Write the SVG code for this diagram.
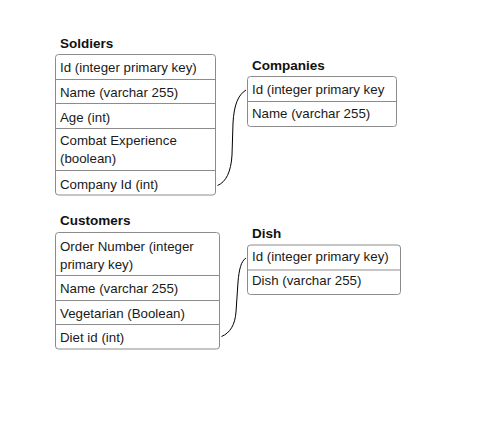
<svg xmlns="http://www.w3.org/2000/svg" width="491" height="434" viewBox="0 0 491 434">
<style>
.bg{fill:#ffffff}
.box{fill:#ffffff;stroke:#8c8c8c;stroke-width:1}
.sep{stroke:#8c8c8c;stroke-width:1}
.t{font-family:"Liberation Sans",Arial,sans-serif;font-size:13.3px;fill:#1a1a1a}
.h{font-family:"Liberation Sans",Arial,sans-serif;font-size:13.5px;font-weight:bold;fill:#111111}
.link{fill:none;stroke:#000000;stroke-width:1}
</style>
<rect class="bg" x="0" y="0" width="491" height="434"/>
<g id="soldiers">
<text class="h" x="60" y="47.5">Soldiers</text>
<rect class="box" x="55.5" y="54.5" width="160" height="140.5" rx="3"/>
<line class="sep" x1="55.5" y1="79.5" x2="215.5" y2="79.5"/>
<line class="sep" x1="55.5" y1="103.5" x2="215.5" y2="103.5"/>
<line class="sep" x1="55.5" y1="128.5" x2="215.5" y2="128.5"/>
<line class="sep" x1="55.5" y1="170.5" x2="215.5" y2="170.5"/>
<text class="t" x="60" y="72">Id (integer primary key)</text>
<text class="t" x="60" y="97">Name (varchar 255)</text>
<text class="t" x="60" y="122">Age (int)</text>
<text class="t" x="60" y="144.5">Combat Experience</text>
<text class="t" x="60" y="163">(boolean)</text>
<text class="t" x="60" y="188.5">Company Id (int)</text>
</g>
<g id="companies">
<text class="h" x="252" y="69.5">Companies</text>
<rect class="box" x="247.5" y="76.5" width="149" height="50" rx="3"/>
<line class="sep" x1="247.5" y1="101.5" x2="396.5" y2="101.5"/>
<text class="t" x="252" y="94">Id (integer primary key</text>
<text class="t" x="252" y="117.5">Name (varchar 255)</text>
</g>
<g id="customers">
<text class="h" x="60" y="225">Customers</text>
<rect class="box" x="55.5" y="232.5" width="164" height="116.5" rx="3"/>
<line class="sep" x1="55.5" y1="275.5" x2="219.5" y2="275.5"/>
<line class="sep" x1="55.5" y1="300.5" x2="219.5" y2="300.5"/>
<line class="sep" x1="55.5" y1="324.5" x2="219.5" y2="324.5"/>
<text class="t" x="60" y="251">Order Number (integer</text>
<text class="t" x="60" y="268.5">primary key)</text>
<text class="t" x="60" y="292.5">Name (varchar 255)</text>
<text class="t" x="60" y="317.5">Vegetarian (Boolean)</text>
<text class="t" x="60" y="342">Diet id (int)</text>
</g>
<g id="dish">
<text class="h" x="252" y="237.5">Dish</text>
<rect class="box" x="247.5" y="245" width="153" height="49.5" rx="3"/>
<line class="sep" x1="247.5" y1="270" x2="400.5" y2="270"/>
<text class="t" x="252" y="261">Id (integer primary key)</text>
<text class="t" x="252" y="285">Dish (varchar 255)</text>
</g>
<g id="connectors">
<path class="link" d="M217.5,185.5 C226,182 231,172 232,155 L233,123 C234,105 238,95 246,90"/>
<path class="link" d="M221.5,336.5 C230,333 235,325 236,312 L238,282 C239,270 241,261 246,258"/>
</g>
</svg>
